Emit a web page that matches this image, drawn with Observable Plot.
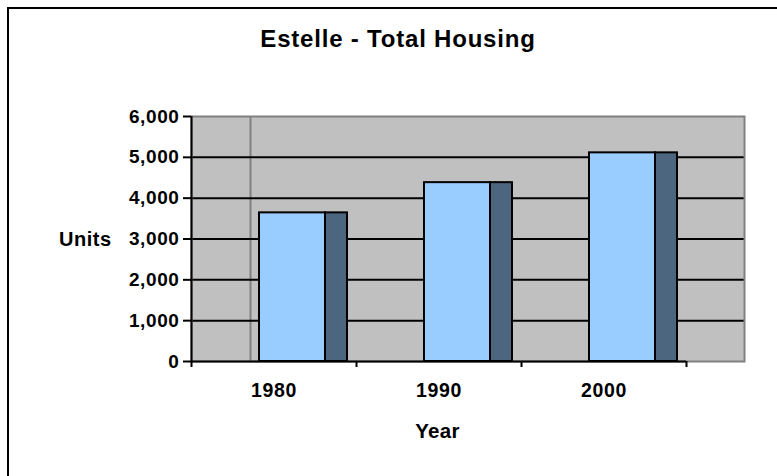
<!DOCTYPE html>
<html><head><meta charset="utf-8">
<script src="https://cdn.jsdelivr.net/npm/d3@7"></script>
<script src="https://cdn.jsdelivr.net/npm/@observablehq/plot@0.6"></script>
<style>
html,body{margin:0;padding:0;background:#fff;}
body{width:777px;height:476px;overflow:hidden;position:relative;font-family:"Liberation Sans",Arial,sans-serif;font-weight:bold;color:#000;}
#border{position:absolute;left:7px;top:7px;width:820px;height:520px;border-left:2px solid #000;border-top:2px solid #000;}
#title{position:absolute;left:0;width:796px;top:26.5px;text-align:center;font-size:24px;line-height:24px;letter-spacing:0.8px;white-space:nowrap;}
#ylabel{position:absolute;left:59px;top:228.5px;font-size:20px;line-height:20px;letter-spacing:0.5px;white-space:nowrap;}
#xlabel{position:absolute;left:337.5px;width:200px;top:420.5px;text-align:center;font-size:20.5px;line-height:20.5px;letter-spacing:0.3px;white-space:nowrap;}
#chart{position:absolute;left:0;top:0;}
</style></head>
<body>
<div id="border"></div>
<div id="chart"></div>
<div id="title">Estelle - Total Housing</div>
<div id="ylabel">Units</div>
<div id="xlabel">Year</div>
<script>
const years = ["1980", "1990", "2000"];
const units = [3640, 4380, 5110];
const yTicks = [0, 1000, 2000, 3000, 4000, 5000, 6000];

const data = years.map((year, i) => ({year, units: units[i]}));
const bw = 165;
const fmt = d3.format(",");

const plot = Plot.plot({
  width: 777, height: 476,
  marginLeft: 191, marginRight: 33, marginTop: 116, marginBottom: 115,
  style: {fontFamily: "'Liberation Sans', Arial, sans-serif", fontWeight: "bold", letterSpacing: "0.6px", background: "transparent", color: "black", overflow: "visible"},
  x: {type: "band", domain: years, range: [191, 191 + 3 * bw], padding: 0},
  y: {domain: [0, 6000]},
  marks: [
    Plot.frame({fill: "#C0C0C0"}),
    Plot.ruleX([years[0]], {dx: -23.5, stroke: "#808080", strokeWidth: 2}),
    Plot.ruleY(yTicks.filter(d => d > 0 && d < 6000), {stroke: "black", strokeWidth: 2}),
    Plot.frame({stroke: "#808080", strokeWidth: 2}),
    Plot.barY(data, {x: "year", y: "units", fill: "#99CCFF", stroke: "black", strokeWidth: 2, insetLeft: 68, insetRight: 31}),
    Plot.barY(data, {x: "year", y: "units", fill: "#4D6680", stroke: "black", strokeWidth: 2, insetLeft: 134, insetRight: 9}),
    Plot.ruleY([0], {x1: () => years[0], x2: () => years[years.length - 1], stroke: "black", strokeWidth: 2}),
    Plot.ruleX([years[0]], {dx: -bw / 2, stroke: "black", strokeWidth: 2}),
    Plot.axisX({tickSize: 6, text: null, dx: -bw / 2, strokeWidth: 2, label: null}),
    Plot.axisX([years[years.length - 1]], {tickSize: 6, text: null, dx: bw / 2, strokeWidth: 2, label: null}),
    Plot.axisX({tickSize: 0, tickPadding: 22, fontSize: 19.5, fontWeight: "bold", label: null}),
    Plot.axisY({ticks: yTicks, tickSize: 8, tickPadding: 4, tickFormat: fmt, fontSize: 19, fontWeight: "bold", strokeWidth: 2, label: null})
  ]
});
document.getElementById("chart").appendChild(plot);
</script>
</body></html>
